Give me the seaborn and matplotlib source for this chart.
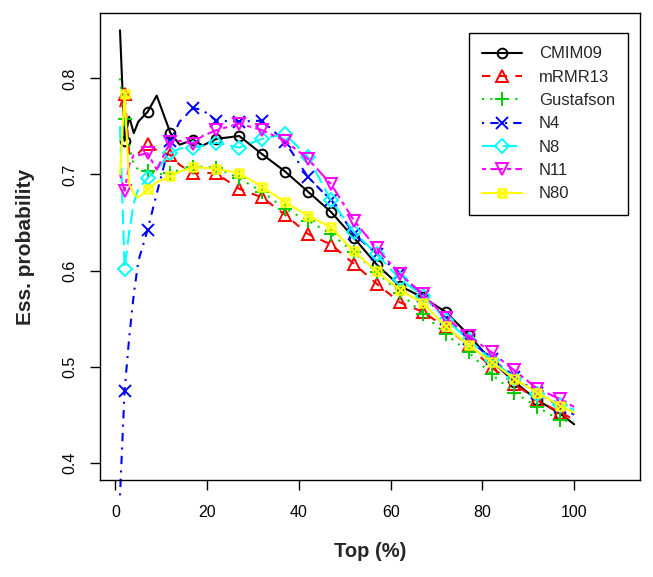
import numpy as np
import pandas as pd
import matplotlib
matplotlib.use("Agg")
import matplotlib.pyplot as plt
from matplotlib.path import Path
from matplotlib.lines import Line2D
import seaborn as sns

# Top (%) positions
TOP = [1, 2, 3, 4, 5, 7, 9, 12, 14, 17, 19, 22, 27, 32, 37, 42, 47, 52, 57,
       62, 67, 72, 77, 82, 87, 92, 97, 100]

CMIM09 = [0.850, 0.735, 0.760, 0.743, 0.755, 0.765, 0.782, 0.743, 0.731, 0.736,
          0.730, 0.737, 0.740, 0.721, 0.703, 0.682, 0.661, 0.634, 0.606, 0.584,
          0.572, 0.557, 0.533, 0.506, 0.484, 0.465, 0.451, 0.440]
MRMR13 = [0.770, 0.784, 0.722, 0.720, 0.722, 0.732, 0.725, 0.720, 0.710, 0.701,
          0.702, 0.701, 0.685, 0.676, 0.658, 0.638, 0.627, 0.607, 0.586, 0.567,
          0.557, 0.541, 0.522, 0.499, 0.482, 0.465, 0.452, 0.445]
GUSTAFSON = [0.800, 0.758, 0.730, 0.710, 0.705, 0.704, 0.700, 0.701, 0.705, 0.708,
             0.708, 0.707, 0.696, 0.682, 0.664, 0.652, 0.638, 0.619, 0.598, 0.577,
             0.555, 0.534, 0.515, 0.492, 0.473, 0.458, 0.444, 0.443]
N4 = [0.366, 0.475, 0.530, 0.575, 0.610, 0.642, 0.680, 0.735, 0.755, 0.769,
      0.767, 0.756, 0.755, 0.756, 0.734, 0.697, 0.673, 0.638, 0.617, 0.597,
      0.574, 0.550, 0.529, 0.508, 0.489, 0.473, 0.458, 0.450]
N8 = [0.750, 0.602, 0.640, 0.670, 0.685, 0.696, 0.705, 0.722, 0.727, 0.728,
      0.730, 0.733, 0.728, 0.737, 0.742, 0.718, 0.673, 0.640, 0.617, 0.591,
      0.574, 0.549, 0.528, 0.507, 0.488, 0.471, 0.460, 0.455]
N11 = [0.700, 0.683, 0.710, 0.720, 0.720, 0.722, 0.705, 0.734, 0.735, 0.732,
       0.740, 0.746, 0.753, 0.746, 0.735, 0.716, 0.690, 0.652, 0.623, 0.596,
       0.576, 0.551, 0.532, 0.515, 0.496, 0.477, 0.466, 0.458]
N80 = [0.700, 0.784, 0.690, 0.680, 0.676, 0.685, 0.692, 0.698, 0.703, 0.708,
       0.707, 0.706, 0.701, 0.687, 0.671, 0.657, 0.645, 0.620, 0.599, 0.580,
       0.566, 0.542, 0.522, 0.505, 0.487, 0.473, 0.459, 0.452]

METHODS = ["CMIM09", "mRMR13", "Gustafson", "N4", "N8", "N11", "N80"]
VALUES = [CMIM09, MRMR13, GUSTAFSON, N4, N8, N11, N80]

# square with a cross inside (R pch 7)
boxx = Path([(-1, -1), (1, -1), (1, 1), (-1, 1), (-1, -1),
             (-1, -1), (1, 1), (-1, 1), (1, -1)],
            [Path.MOVETO, Path.LINETO, Path.LINETO, Path.LINETO, Path.CLOSEPOLY,
             Path.MOVETO, Path.LINETO, Path.MOVETO, Path.LINETO])

STYLES = {
    "CMIM09":    dict(color="black",   ls="-",                    marker="o", ms=7),
    "mRMR13":    dict(color="#FF0000", ls=(0, (4, 4)),            marker="^", ms=8),
    "Gustafson": dict(color="#00CD00", ls=(0, (1, 3)),            marker="+", ms=10),
    "N4":        dict(color="#0000FF", ls=(0, (1, 3, 4, 3)),      marker="x", ms=8),
    "N8":        dict(color="#00FFFF", ls=(0, (7, 3)),            marker="D", ms=7),
    "N11":       dict(color="#FF00FF", ls=(0, (2, 2, 6, 2)),      marker="v", ms=8),
    "N80":       dict(color="#FFFF00", ls="-",                    marker=boxx, ms=6),
}

df = pd.concat([pd.DataFrame({"top": TOP, "prob": v, "method": m})
                for m, v in zip(METHODS, VALUES)], ignore_index=True)

sns.set_theme(style="ticks")
plt.rcParams["font.family"] = ["Liberation Sans", "DejaVu Sans"]

fig = plt.figure(figsize=(6.53, 5.77), dpi=100)
ax = fig.add_axes([100 / 653, 1 - 480 / 577, 540 / 653, 467 / 577])

mark_idx = [i for i, t in enumerate(TOP) if (t - 2) % 5 == 0]
handles = []
for m in METHODS:
    st = STYLES[m]
    sub = df[df["method"] == m]
    sns.lineplot(data=sub, x="top", y="prob", ax=ax, color=st["color"],
                 linestyle=st["ls"], linewidth=1.5, marker=st["marker"],
                 markersize=st["ms"], markevery=mark_idx, fillstyle="none",
                 markeredgecolor=st["color"], markeredgewidth=1.4,
                 clip_on=(m != "N4"))
    handles.append(Line2D([], [], color=st["color"], linestyle=st["ls"], linewidth=1.5,
                          marker=st["marker"], markersize=st["ms"], fillstyle="none",
                          markeredgecolor=st["color"], markeredgewidth=1.4))

ax.set_xlim(-3.36, 114.36)
ax.set_ylim(0.382, 0.868)
ax.set_xticks([0, 20, 40, 60, 80, 100])
ax.set_yticks([0.4, 0.5, 0.6, 0.7, 0.8])
ax.set_yticklabels(["0.4", "0.5", "0.6", "0.7", "0.8"], rotation=90, va="center")
ax.tick_params(direction="out", length=7, width=1, labelsize=11.5, colors="black")
ax.tick_params(axis="x", pad=11)
ax.tick_params(axis="y", pad=9)
for s in ax.spines.values():
    s.set_color("black")
    s.set_linewidth(1)
ax.set_xlabel("Top (%)", fontsize=14.5, fontweight="bold", labelpad=16)
ax.set_ylabel("Ess. probability", fontsize=15, fontweight="bold", labelpad=20)
ax.grid(False)

leg = ax.legend(handles, METHODS, loc="upper right", bbox_to_anchor=(0.978, 0.957),
                fontsize=12, frameon=True, fancybox=False, framealpha=1,
                edgecolor="black", handlelength=2.4, handletextpad=1.0,
                borderpad=0.8, labelspacing=0.5, borderaxespad=0)
leg.get_frame().set_linewidth(1)

fig.savefig("out.png", dpi=100, facecolor="white")
